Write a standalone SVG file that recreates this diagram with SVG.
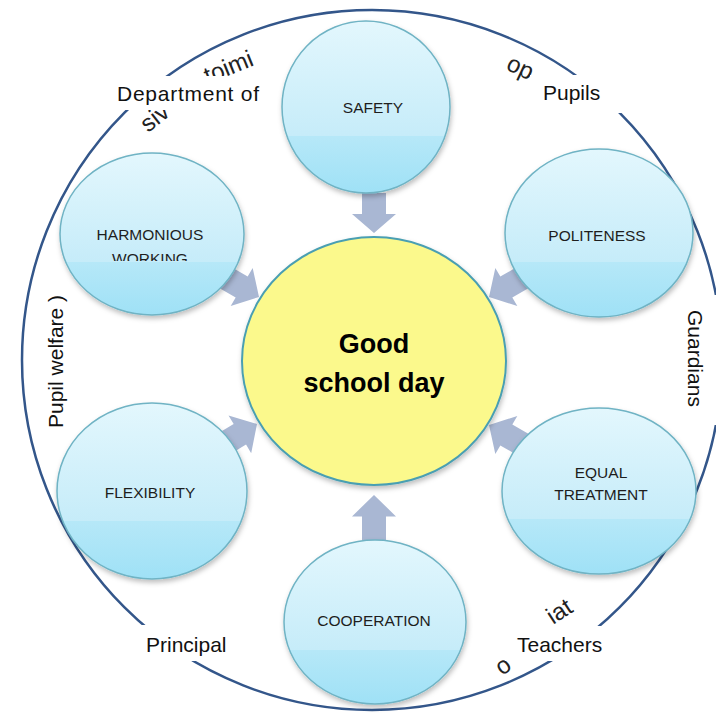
<svg xmlns="http://www.w3.org/2000/svg" width="716" height="713" viewBox="0 0 716 713">
<defs>
<style>
.node{fill:url(#nodeGrad);stroke:#6fb3c4;stroke-width:1.5;filter:url(#shadow)}
.ntext{font-family:"Liberation Sans",Arial,sans-serif;font-size:15.5px;fill:#1e1e1e;text-anchor:middle}
.label{font-family:"Liberation Sans",Arial,sans-serif;font-size:21px;fill:#111}
.frag{font-family:"Liberation Sans",Arial,sans-serif;font-size:24px;fill:#222}
.arrow{fill:#a9b7d3}
.mask{fill:#ffffff}
</style>
<linearGradient id="nodeGrad" x1="0" y1="0" x2="0" y2="1">
<stop offset="0" stop-color="#e3f7fd"/>
<stop offset="0.67" stop-color="#c6ecf9"/>
<stop offset="0.67" stop-color="#b6e8f8"/>
<stop offset="1" stop-color="#9fe1f6"/>
</linearGradient>
<filter id="shadow" x="-20%" y="-20%" width="140%" height="150%">
<feDropShadow dx="1" dy="3" stdDeviation="2.5" flood-color="#000" flood-opacity="0.25"/>
</filter>
<clipPath id="clipHW"><rect x="55" y="145" width="200" height="116"/></clipPath>
<path id="arr" d="M-42,-12 L-20,-12 L-20,-22 L0,0 L-20,22 L-20,12 L-42,12 Z"/>
</defs>

<circle cx="372" cy="360" r="350" fill="none" stroke="#33568a" stroke-width="2.5"/>

<g id="fragments">
<text class="frag" transform="translate(208,84) rotate(-22)">toimi</text>
<text class="frag" transform="translate(148,133) rotate(-38)">siv</text>
<text class="frag" transform="translate(505,69) rotate(25)">op</text>
<text class="frag" transform="translate(553,625) rotate(-33)">iat</text>
<text class="frag" transform="translate(502,676) rotate(-35)">o</text>
</g>

<g id="label-masks">
<rect class="mask" x="105" y="76" width="170" height="34"/>
<rect class="mask" x="530" y="75" width="95" height="38"/>
<rect class="mask" x="683" y="295" width="33" height="130"/>
<rect class="mask" x="40" y="288" width="37" height="157"/>
<rect class="mask" x="133" y="625" width="148" height="36"/>
<rect class="mask" x="505" y="626" width="135" height="35"/>
</g>

<g id="connectors">
<use href="#arr" class="arrow" transform="translate(374,233) rotate(90) scale(0.95,1)"/>
<use href="#arr" class="arrow" transform="translate(374,495) rotate(-90) scale(1.07,1)"/>
<use href="#arr" class="arrow" transform="translate(259,297) rotate(30)"/>
<use href="#arr" class="arrow" transform="translate(489,297) rotate(150)"/>
<use href="#arr" class="arrow" transform="translate(489,425) rotate(210)"/>
<use href="#arr" class="arrow" transform="translate(257,424) rotate(-31)"/>
</g>

<g id="node-safety">
<ellipse class="node" cx="366" cy="107" rx="84" ry="86"/>
<text class="ntext" x="373" y="113">SAFETY</text>
</g>
<g id="node-politeness">
<ellipse class="node" cx="599" cy="233" rx="94" ry="84"/>
<text class="ntext" x="597" y="241">POLITENESS</text>
</g>
<g id="node-equal">
<ellipse class="node" cx="599" cy="491" rx="97" ry="83"/>
<text class="ntext" x="601" y="478">EQUAL</text>
<text class="ntext" x="601" y="500">TREATMENT</text>
</g>
<g id="node-cooperation">
<ellipse class="node" cx="375" cy="622" rx="91" ry="82"/>
<text class="ntext" x="374" y="626">COOPERATION</text>
</g>
<g id="node-flexibility">
<ellipse class="node" cx="152" cy="491" rx="95" ry="88"/>
<text class="ntext" x="150" y="498">FLEXIBILITY</text>
</g>
<g id="node-harmonious">
<ellipse class="node" cx="152" cy="234" rx="92" ry="81"/>
<text class="ntext" x="150" y="240">HARMONIOUS</text>
<text class="ntext" x="150" y="264" clip-path="url(#clipHW)">WORKING</text>
</g>
<g id="node-center">
<ellipse cx="374" cy="361" rx="132" ry="124" fill="#fbf98c" stroke="#4a9fb2" stroke-width="2" filter="url(#shadow)"/>
<text x="374" y="353" text-anchor="middle" font-family="'Liberation Sans',Arial,sans-serif" font-size="27" font-weight="bold" fill="#000">Good</text>
<text x="374" y="392" text-anchor="middle" font-family="'Liberation Sans',Arial,sans-serif" font-size="27" font-weight="bold" fill="#000">school day</text>
</g>

<g id="labels">
<text class="label" x="117" y="101" textLength="142" lengthAdjust="spacing">Department of</text>
<text class="label" x="543" y="100">Pupils</text>
<text class="label" transform="translate(688,310) rotate(90)">Guardians</text>
<text class="label" transform="translate(63,428) rotate(-90)">Pupil welfare )</text>
<text class="label" x="146" y="652">Principal</text>
<text class="label" x="517" y="652">Teachers</text>
</g>
</svg>
